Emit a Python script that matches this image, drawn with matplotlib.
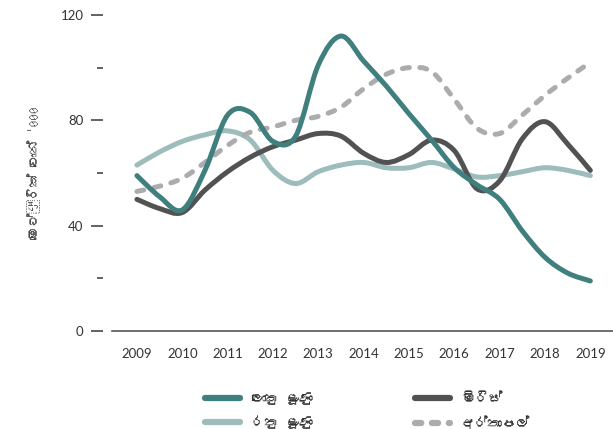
import matplotlib
matplotlib.use("Agg")
import matplotlib.pyplot as plt
from matplotlib import font_manager
from matplotlib.ft2font import FT2Font
from matplotlib.path import Path
from matplotlib.patches import PathPatch
from matplotlib.lines import Line2D

# values ('000 metric tons), every half year
years = [2009, 2009.5, 2010, 2010.5, 2011, 2011.5, 2012, 2012.5, 2013, 2013.5, 2014,
         2014.5, 2015, 2015.5, 2016, 2016.5, 2017, 2017.5, 2018, 2018.5, 2019]
big_onion = [59, 51, 46, 61, 82, 83, 72, 74, 101, 112, 102.5,
             93, 82.5, 72.5, 62, 55.5, 50, 38, 28, 22, 19]
red_onion = [63, 68, 72, 74.5, 76, 72.5, 61, 56, 60.5, 63, 64,
             62, 62, 64, 61.5, 58.5, 59, 60.5, 62, 61, 59]
chilli = [50, 46.5, 45, 53.5, 60.5, 66, 70, 72.5, 75, 74, 67.5,
          64, 67, 72.5, 68.5, 54, 57, 73, 79.5, 71, 61]
potato = [53, 55, 58, 64, 70.5, 75.5, 77.5, 80, 81.5, 85, 92,
          97.5, 100, 98.5, 88, 77, 75, 82, 89.5, 96, 102]

names = ["ලොකු ළූණු", "රතු ළූණු", "මිරිස්", "අර්තාපල්"]
ylabel = "මෙට්‍රික් ටොන් '000"
year_labels = [str(y) for y in range(2009, 2020)]

c_big = "#3f7f7d"
c_red = "#9dbcbc"
c_chilli = "#525253"
c_potato = "#acacaf"

# look for a font that has Sinhala letters
sin_font = None
for f in font_manager.fontManager.ttflist:
    try:
        if 0x0DBD in FT2Font(f.fname).get_charmap():
            sin_font = f.name
            break
    except Exception:
        pass
fam = [sin_font, "DejaVu Sans"] if sin_font else ["DejaVu Sans"]


def smooth(ax, x, y, **kw):
    pts = list(zip(x, y))
    verts = [pts[0]]
    codes = [Path.MOVETO]
    n = len(pts)
    for i in range(n - 1):
        p0 = pts[max(i - 1, 0)]
        p1 = pts[i]
        p2 = pts[i + 1]
        p3 = pts[min(i + 2, n - 1)]
        c1 = (p1[0] + (p2[0] - p0[0]) / 6, p1[1] + (p2[1] - p0[1]) / 6)
        c2 = (p2[0] - (p3[0] - p1[0]) / 6, p2[1] - (p3[1] - p1[1]) / 6)
        verts += [c1, c2, p2]
        codes += [Path.CURVE4] * 3
    patch = PathPatch(Path(verts, codes), fill=False, capstyle="round",
                      joinstyle="round", **kw)
    ax.add_patch(patch)
    return patch


fig = plt.figure(figsize=(6.13, 4.29), dpi=100)
ax = fig.add_axes([112 / 613, 1 - 331 / 429, 1 - 112 / 613, (331 - 15) / 429])

lw = 3.6
smooth(ax, years, red_onion, edgecolor=c_red, linewidth=lw)
smooth(ax, years, chilli, edgecolor=c_chilli, linewidth=lw)
smooth(ax, years, potato, edgecolor=c_potato, linewidth=lw, linestyle=(0, (1.4, 2.1)))
smooth(ax, years, big_onion, edgecolor=c_big, linewidth=lw)

ax.set_xlim(2008.45, 2019.5)
ax.set_ylim(0, 120)

ax.set_xticks(range(2009, 2020))
ax.set_xticklabels(year_labels)
ax.set_yticks([0, 40, 80, 120])
ax.set_yticks([20, 60, 100], minor=True)

for s in ["top", "right", "left"]:
    ax.spines[s].set_visible(False)
ax.spines["left"].set_position(("outward", 6.5))
ax.spines["bottom"].set_color("#555555")
ax.spines["bottom"].set_linewidth(1.2)

ax.tick_params(axis="x", length=0, pad=12, labelsize=9.5, labelcolor="#333333")
ax.tick_params(axis="y", which="major", length=8.5, width=1.3, color="#555555",
               pad=5.5, labelsize=9.5, labelcolor="#333333")
ax.tick_params(axis="y", which="minor", length=4.3, width=1.3, color="#555555")
for t in ax.get_xticklabels() + ax.get_yticklabels():
    t.set_family(["Lato", "DejaVu Sans"])

ax.set_ylabel(ylabel, family=fam, fontsize=9.5, color="#444444", labelpad=14)

handles = [
    Line2D([], [], color=c_big, lw=4.5, solid_capstyle="round"),
    Line2D([], [], color=c_red, lw=4.5, solid_capstyle="round"),
    Line2D([], [], color=c_chilli, lw=4.5, solid_capstyle="round"),
    Line2D([], [], color=c_potato, lw=4.5, dash_capstyle="round", linestyle=(0, (1.0, 1.7))),
]
leg = fig.legend(handles, [names[0], names[1], names[2], names[3]], ncol=2,
                 loc="lower center", bbox_to_anchor=(0.6, -0.032), frameon=False,
                 handlelength=2.5, columnspacing=7.3, handletextpad=0.8,
                 labelspacing=0.75, prop={"family": fam, "size": 10})
for t in leg.get_texts():
    t.set_color("#333333")

fig.savefig("out.png", dpi=100)
